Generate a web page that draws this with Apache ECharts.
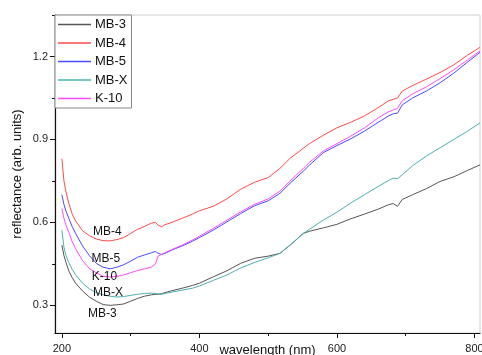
<!DOCTYPE html>
<html>
<head>
<meta charset="utf-8">
<script src="https://cdn.jsdelivr.net/npm/echarts@6/dist/echarts.min.js"></script>
<style>html,body{margin:0;padding:0;background:#fff}#c{width:482px;height:355px}</style>
</head>
<body>
<div id="c"></div>
<script>
const wavelength = [200,203,206,210,215,220,230,240,250,260,270,280,290,300,310,320,330,336,340,345,350,360,375,390,400,420,440,460,480,500,517,532,551,560,580,600,620,640,660,675,682,688,695,710,730,750,770,790,808];
const mb3 = [0.518,0.48,0.455,0.425,0.40,0.38,0.352,0.33,0.315,0.303,0.300,0.302,0.305,0.315,0.325,0.333,0.338,0.34,0.34,0.342,0.346,0.353,0.362,0.372,0.38,0.403,0.425,0.452,0.47,0.478,0.488,0.518,0.56,0.568,0.58,0.593,0.613,0.63,0.648,0.664,0.668,0.658,0.683,0.70,0.722,0.748,0.765,0.788,0.808];
const mb4 = [0.83,0.75,0.71,0.67,0.63,0.605,0.57,0.552,0.54,0.534,0.533,0.538,0.545,0.56,0.575,0.585,0.597,0.60,0.59,0.584,0.592,0.60,0.615,0.63,0.642,0.658,0.685,0.72,0.745,0.762,0.795,0.832,0.868,0.885,0.915,0.942,0.962,0.985,1.015,1.04,1.045,1.05,1.075,1.095,1.118,1.142,1.17,1.205,1.233];
const mb5 = [0.70,0.665,0.64,0.615,0.585,0.56,0.515,0.48,0.452,0.438,0.432,0.438,0.447,0.46,0.474,0.482,0.49,0.495,0.488,0.484,0.488,0.50,0.515,0.532,0.545,0.572,0.602,0.632,0.66,0.678,0.705,0.742,0.785,0.807,0.852,0.878,0.902,0.930,0.962,0.985,0.993,0.995,1.025,1.05,1.075,1.105,1.14,1.18,1.215];
const mbx = [0.572,0.51,0.48,0.455,0.43,0.41,0.38,0.36,0.346,0.338,0.333,0.330,0.332,0.336,0.34,0.343,0.344,0.343,0.341,0.34,0.343,0.348,0.355,0.362,0.37,0.39,0.41,0.435,0.455,0.472,0.488,0.518,0.56,0.575,0.608,0.637,0.67,0.70,0.73,0.752,0.76,0.758,0.772,0.805,0.84,0.87,0.90,0.93,0.96];
const k10 = [0.65,0.615,0.59,0.565,0.53,0.505,0.462,0.433,0.418,0.405,0.403,0.405,0.41,0.418,0.426,0.432,0.438,0.45,0.478,0.484,0.49,0.502,0.518,0.536,0.55,0.578,0.608,0.638,0.665,0.685,0.713,0.75,0.795,0.817,0.858,0.885,0.912,0.942,0.978,1.0,1.007,1.012,1.04,1.065,1.09,1.12,1.152,1.188,1.22];
const seriesNames = ['MB-3','MB-4','MB-5','MB-X','K-10'];
const seriesValues = [mb3, mb4, mb5, mbx, k10];
const seriesColors = ['#555555','#ff4a4a','#4a4aff','#4fb0b0','#ff4aff'];
// in-plot labels: [name, wavelength, value]
const annotations = [['MB-3',259,0.271],['MB-4',266,0.568],['MB-5',264,0.467],['MB-X',267,0.344],['K-10',262,0.405]];
const xMajorTicks = [200,400,600,800];
const xMinorTicks = [300,500,700];
const yMajorTicks = [0.3,0.6,0.9,1.2];
const yMinorTicks = [0.45,0.75,1.05,1.35];

const FONT = 'Liberation Sans, Arial, sans-serif';
const chart = echarts.init(document.getElementById('c'), null, {renderer:'canvas'});
const series = seriesNames.map((name, i) => {
  const ann = annotations.find(a => a[0] === name);
  return {
    name, type:'line', showSymbol:false, symbol:'none',
    xAxisIndex:0, yAxisIndex:0,
    lineStyle:{color:seriesColors[i], width:1},
    itemStyle:{color:seriesColors[i]},
    data: wavelength.map((w, j) => [w, seriesValues[i][j]]),
    markPoint: {
      symbol:'circle', symbolSize:0,
      label:{show:true, position:'inside', formatter:name, color:'#111', fontSize:12, fontFamily:FONT},
      data:[{coord:[ann[1], ann[2]]}]
    },
    z: 2
  };
});
const commonX = {type:'value', min:190, max:808, splitLine:{show:false}};
const commonY = {type:'value', min:0.2, max:1.35, splitLine:{show:false}};
chart.setOption({
  animation:false,
  backgroundColor:'#fff',
  grid:{left:55, right:2, top:15, bottom:22, outerBoundsMode:'none', containLabel:false, show:true, borderColor:'#d0d0d0', borderWidth:1},
  legend:{
    orient:'vertical', left:55, top:15, padding:[3,4,3,3],
    itemWidth:33, itemHeight:10, itemGap:5.5,
    icon:'path://M0,0 L33,0 L33,1.5 L0,1.5 Z',
    backgroundColor:'#fff', borderColor:'#888', borderWidth:1,
    textStyle:{fontSize:13, fontFamily:FONT, color:'#111', padding:[0,0,0,-1]},
    data: seriesNames
  },
  xAxis:[
    Object.assign({}, commonX, {
      position:'bottom',
      name:'wavelength (nm)', nameLocation:'middle', nameGap:11, nameMoveOverlap:false,
      nameTextStyle:{fontSize:13, fontFamily:FONT, color:'#111'},
      axisLine:{show:true, onZero:false, lineStyle:{color:'#111', width:1.2}},
      axisTick:{show:true, length:5, customValues:xMajorTicks, lineStyle:{color:'#111'}},
      axisLabel:{show:true, customValues:xMajorTicks, fontSize:11, fontFamily:FONT, color:'#222', margin:10}
    }),
    Object.assign({}, commonX, {
      position:'bottom', gridIndex:0,
      axisLine:{show:false}, axisLabel:{show:false},
      axisTick:{show:true, length:3, customValues:xMinorTicks, lineStyle:{color:'#111'}}
    })
  ],
  yAxis:[
    Object.assign({}, commonY, {
      position:'left',
      name:'reflectance (arb. units)', nameLocation:'middle', nameGap:31, nameMoveOverlap:false,
      nameTextStyle:{fontSize:13, fontFamily:FONT, color:'#111'},
      axisLine:{show:true, onZero:false, lineStyle:{color:'#111', width:1.2}},
      axisTick:{show:true, length:5, customValues:yMajorTicks, lineStyle:{color:'#111'}},
      axisLabel:{show:true, customValues:yMajorTicks, fontSize:11, fontFamily:FONT, color:'#222', margin:7, formatter:v=>v.toFixed(1)}
    }),
    Object.assign({}, commonY, {
      position:'left', gridIndex:0,
      axisLine:{show:false}, axisLabel:{show:false},
      axisTick:{show:true, length:3, customValues:yMinorTicks, lineStyle:{color:'#111'}}
    })
  ],
  series
});
</script>
</body>
</html>
